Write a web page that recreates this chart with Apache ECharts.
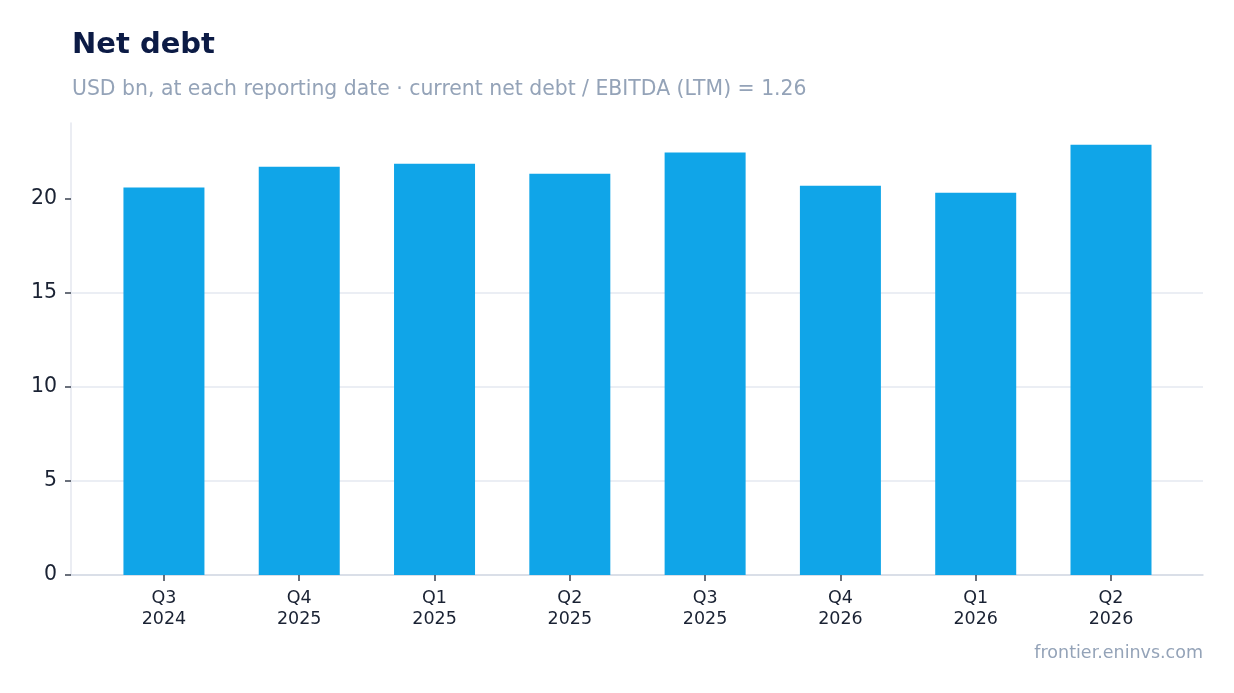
<!DOCTYPE html>
<html>
<head>
<meta charset="utf-8">
<script src="https://cdn.jsdelivr.net/npm/echarts@6/dist/echarts.min.js"></script>
<style>
html,body{margin:0;padding:0;background:#fff;}
#chart{width:1234px;height:693px;}
</style>
</head>
<body>
<div id="chart"></div>
<script>
const categories = ['Q3\n2024','Q4\n2025','Q1\n2025','Q2\n2025','Q3\n2025','Q4\n2026','Q1\n2026','Q2\n2026'];
const netDebt = [20.57, 21.68, 21.84, 21.31, 22.43, 20.67, 20.30, 22.85];
const yTicks = [0, 5, 10, 15, 20];

const catIdx = categories.map((c, i) => i);
const barData = netDebt.map((v, i) => [i, v]);

const chart = echarts.init(document.getElementById('chart'));
chart.setOption({
  backgroundColor: '#ffffff',
  animation: false,
  textStyle: { fontFamily: 'DejaVu Sans' },
  title: [
    { text: 'Net debt', left: 67, top: 26,
      textStyle: { fontSize: 29, fontWeight: 'bold', color: '#0c1b45', fontFamily: 'DejaVu Sans' } },
    { text: 'USD bn, at each reporting date · current net debt / EBITDA (LTM) = 1.26', left: 67, top: 75,
      textStyle: { fontSize: 20.4, fontWeight: 'normal', color: '#94a3b8', fontFamily: 'DejaVu Sans' } },
    { text: 'frontier.eninvs.com', right: 26, top: 639,
      textStyle: { fontSize: 17.5, fontWeight: 'normal', color: '#94a3b8', fontFamily: 'DejaVu Sans' } }
  ],
  grid: { left: 71, right: 31, top: 123, bottom: 118, containLabel: false },
  xAxis: {
    type: 'value',
    min: -0.687, max: 7.68,
    axisLine: { show: true, onZero: false, lineStyle: { color: '#d5dae4', width: 1.5 } },
    axisTick: { show: true, length: 6, lineStyle: { color: '#3a4150', width: 1.5 }, customValues: catIdx },
    axisLabel: { fontSize: 17.5, color: '#1a2233', margin: 13, lineHeight: 21, fontFamily: 'DejaVu Sans',
      customValues: catIdx, formatter: v => categories[Math.round(v)] },
    splitLine: { show: false }
  },
  yAxis: {
    type: 'value',
    min: 0, max: 24, interval: 5,
    axisLine: { show: true, onZero: false, lineStyle: { color: '#e4e7ef', width: 1.5 } },
    axisTick: { show: true, length: 6, lineStyle: { color: '#3a4150', width: 1.5 }, customValues: yTicks },
    axisLabel: { fontSize: 20.5, color: '#1a2233', margin: 14, padding: [0, 0, 6, 0], fontFamily: 'DejaVu Sans', customValues: yTicks },
    splitLine: { show: true, showMaxLine: false, lineStyle: { color: '#e5e8f0', width: 1.5 } }
  },
  series: [{
    type: 'bar',
    data: barData,
    barWidth: 81,
    itemStyle: { color: '#10a5e8' }
  }]
});
</script>
</body>
</html>
